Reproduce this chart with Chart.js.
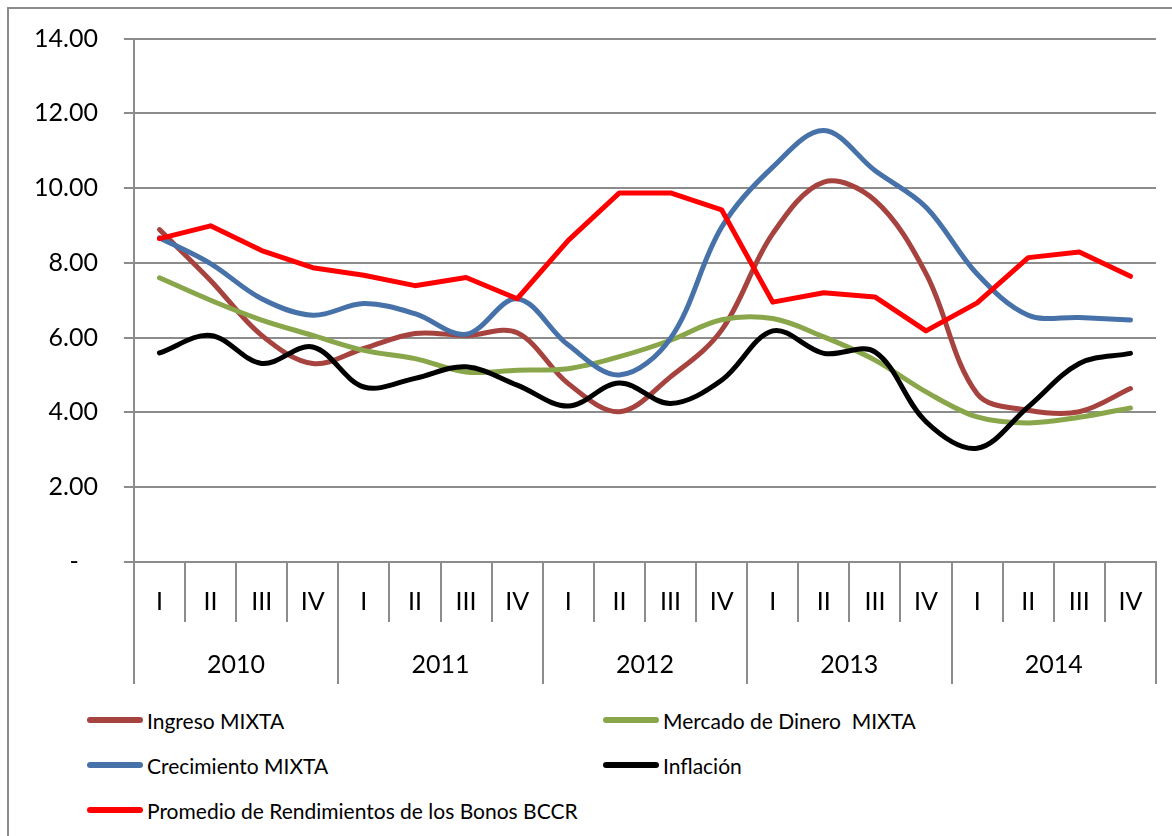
<!DOCTYPE html>
<html lang="es">
<head>
<meta charset="UTF-8">
<title>Rendimientos MIXTA</title>
<script src="https://cdn.jsdelivr.net/npm/chart.js"></script>
<style>
  html, body { margin: 0; padding: 0; background: #fff; }
  body { width: 1172px; height: 836px; position: relative; overflow: hidden; font-family: Lato, "Open Sans", sans-serif; }
  .frame { position: absolute; left: 7px; top: 7px; width: 1200px; height: 900px; border-left: 2px solid #8c8c8c; border-top: 2px solid #8c8c8c; }
  .chartBox { position: absolute; left: 0; top: 0; width: 1172px; height: 700px; }
  .legend-item { position: absolute; display: flex; align-items: center; font-size: 21px; color: #000; white-space: pre; }
  .legend-line { width: 56px; height: 6px; border-radius: 3px; margin-right: 4px; }
</style>
</head>
<body>
<div class="frame"></div>
<div class="chartBox"><canvas id="rendChart" width="1172" height="700"></canvas></div>
<div id="legend"></div>
<script>
// quarters and years
const quarters = ['I','II','III','IV','I','II','III','IV','I','II','III','IV','I','II','III','IV','I','II','III','IV'];
const years = ['2010','2011','2012','2013','2014'];

// series (%)
const ingreso     = [8.89, 7.53, 6.06, 5.31, 5.71, 6.11, 6.06, 6.13, 4.77, 4.02, 4.95, 6.20, 8.78, 10.16, 9.67, 7.71, 4.50, 4.06, 4.02, 4.64];
const mercado     = [7.60, 7.00, 6.47, 6.06, 5.66, 5.44, 5.08, 5.13, 5.17, 5.49, 5.93, 6.48, 6.51, 6.02, 5.40, 4.55, 3.88, 3.72, 3.87, 4.12];
const crecimiento = [8.67, 7.98, 7.04, 6.60, 6.91, 6.64, 6.09, 7.04, 5.80, 5.00, 5.98, 8.95, 10.56, 11.54, 10.47, 9.49, 7.70, 6.60, 6.54, 6.47];
const inflacion   = [5.59, 6.06, 5.31, 5.75, 4.68, 4.91, 5.22, 4.73, 4.17, 4.79, 4.24, 4.86, 6.18, 5.58, 5.62, 3.75, 3.04, 4.15, 5.31, 5.58];
const bonos       = [8.65, 8.99, 8.33, 7.87, 7.67, 7.39, 7.61, 7.04, 8.60, 9.87, 9.87, 9.42, 6.95, 7.20, 7.09, 6.18, 6.93, 8.14, 8.29, 7.64];

const yTicks = [0, 2, 4, 6, 8, 10, 12, 14];

const series = [
  { label: 'Ingreso MIXTA', data: ingreso, color: '#A6433F', smooth: true },
  { label: 'Mercado de Dinero  MIXTA', data: mercado, color: '#8AA64A', smooth: true },
  { label: 'Crecimiento MIXTA', data: crecimiento, color: '#4671A9', smooth: true },
  { label: 'Inflación', data: inflacion, color: '#000000', smooth: true },
  { label: 'Promedio de Rendimientos de los Bonos BCCR', data: bonos, color: '#FF0000', smooth: false }
];

const gridGray = '#8c8c8c';

const ctx = document.getElementById('rendChart').getContext('2d');
const chart = new Chart(ctx, {
  type: 'line',
  data: {
    labels: quarters,
    datasets: series.map((s, i) => ({
      label: s.label,
      data: s.data,
      borderColor: s.color,
      backgroundColor: s.color,
      borderWidth: 5,
      pointRadius: 0,
      pointHoverRadius: 0,
      tension: s.smooth ? 0.35 : 0,
      borderCapStyle: 'round',
      borderJoinStyle: 'round',
      fill: false,
      order: series.length - i
    }))
  },
  options: {
    responsive: false,
    animation: false,
    events: [],
    layout: { padding: { left: 8, right: 16, top: 10, bottom: 14 } },
    plugins: { legend: { display: false }, tooltip: { enabled: false } },
    scales: {
      y: {
        min: 0, max: 14,
        afterBuildTicks: axis => { axis.ticks = yTicks.map(v => ({ value: v })); },
        ticks: {
          font: { family: 'Lato', size: 25, lineHeight: 1 }, color: '#000', padding: 26,
          callback: v => v === 0 ? '-   ' : v.toFixed(2)
        },
        grid: { color: gridGray, lineWidth: 2, tickLength: 10 },
        border: { color: gridGray, width: 2 }
      },
      x: {
        type: 'category',
        offset: true,
        ticks: { font: { family: 'Lato', size: 25, lineHeight: 1.6 }, color: '#000', padding: -20, crossAlign: 'far', maxRotation: 0, autoSkip: false },
        grid: { offset: true, drawOnChartArea: false, color: gridGray, lineWidth: 2, tickLength: 60 },
        border: { color: gridGray, width: 2 }
      },
      x2: {
        type: 'category',
        labels: years,
        position: 'bottom',
        offset: true,
        ticks: { font: { family: 'Lato', size: 25, lineHeight: 1.6 }, color: '#000', padding: -19, crossAlign: 'far', maxRotation: 0, autoSkip: false },
        grid: { offset: true, drawOnChartArea: false, color: gridGray, lineWidth: 2, tickLength: 62 },
        border: { display: false }
      }
    }
  }
});

// legend laid out in two columns like the original
const legendBox = document.getElementById('legend');
const legendPos = [[87, 720], [603, 720], [87, 765], [603, 765], [87, 810]];
series.forEach((s, i) => {
  const item = document.createElement('div');
  item.className = 'legend-item';
  item.style.left = legendPos[i][0] + 'px';
  item.style.top = (legendPos[i][1] - 14) + 'px';
  item.style.height = '28px';
  item.innerHTML = `<span class="legend-line" style="background:${s.color}"></span><span>${s.label}</span>`;
  legendBox.appendChild(item);
});
</script>
</body>
</html>
